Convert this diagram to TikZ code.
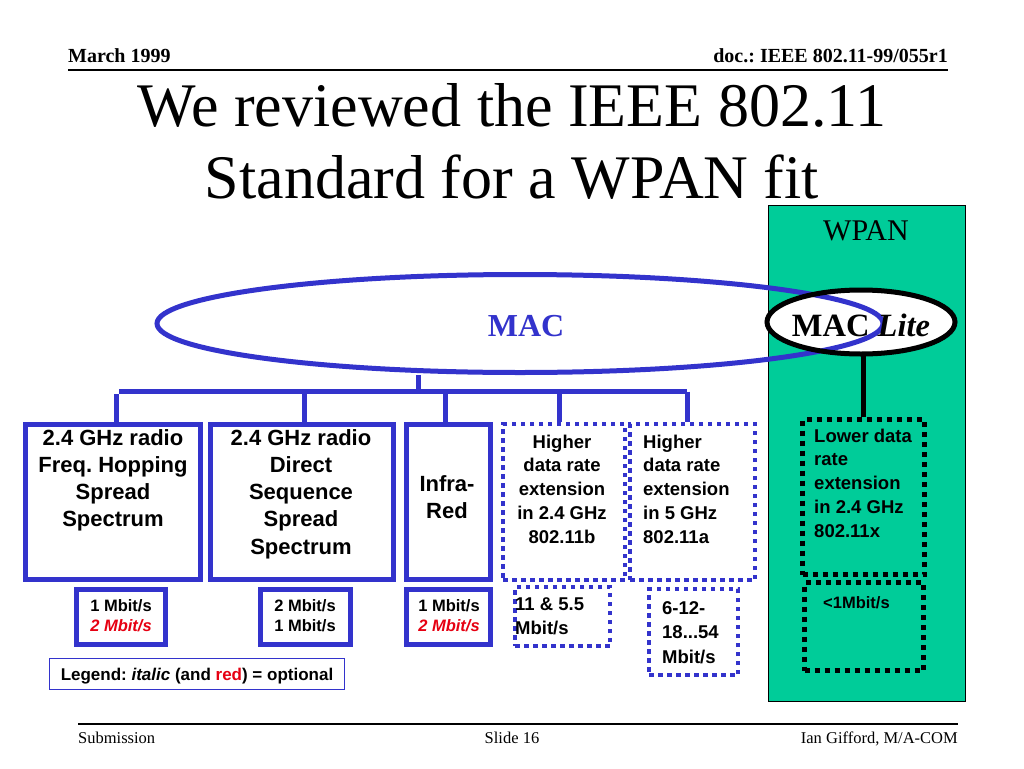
\documentclass[tikz,border=0pt]{standalone}
\usepackage{fontspec}
\setmainfont{Liberation Serif}
\newfontfamily\arialf{Liberation Sans}
\usetikzlibrary{shapes.geometric}
\frenchspacing
\definecolor{macblue}{RGB}{51,51,204}
\definecolor{wpangreen}{RGB}{0,204,153}
\definecolor{optred}{RGB}{230,0,18}
\newcommand{\mytab}[2]{\begin{tabular}[t]{@{}#1@{}}#2\end{tabular}}
\tikzset{
  bluebox/.style={draw=macblue, line width=5pt, rectangle, inner sep=0pt},
  bluedots/.style={draw=macblue, line width=4.5pt, dash pattern=on 4.5pt off 4.5pt, rectangle, inner sep=0pt},
  blackdots/.style={draw=black, line width=5pt, dash pattern=on 5pt off 5pt, rectangle, inner sep=0pt},
  tree/.style={draw=macblue, line width=5pt},
  txt/.style={inner sep=0pt, anchor=base},
  bigtxt/.style={txt, font=\arialf\bfseries\fontsize{22}{27.3}\selectfont},
  midtxt/.style={txt, font=\arialf\bfseries\fontsize{18.5}{23.8}\selectfont},
  ratetxt/.style={txt, font=\arialf\bfseries\fontsize{16.5}{20}\selectfont},
  headtxt/.style={txt, font=\bfseries\fontsize{20}{24}\selectfont},
  foottxt/.style={txt, font=\fontsize{16.5}{20}\selectfont},
}
\begin{document}
\begin{tikzpicture}[x=1pt,y=-1pt]
\useasboundingbox[fill=white] (0,0) rectangle (1024,768);
% header
\node[headtxt, anchor=base west] (date) at (68,63) {March 1999};
\node[headtxt, anchor=base east] (doc) at (948,63) {doc.: IEEE 802.11-99/055r1};
\coordinate (hl) at (68,70);
\coordinate (hr) at (948,70);
\draw[line width=2pt] (hl) -- (hr);
% title
\node[txt, font=\fontsize{62}{72}\selectfont] (title) at (512,126)
  {\mytab{c}{We reviewed the IEEE 802.11\\Standard for a WPAN fit}};
% WPAN panel
\node[draw=black, line width=1pt, fill=wpangreen, rectangle, inner sep=0pt,
  minimum width=197pt, minimum height=496pt, anchor=north west] (panel) at (767.5,204.5) {};
\node[txt, font=\fontsize{30}{34}\selectfont] (wpan) at (866,240) {WPAN};
% MAC Lite (fill), MAC ellipse, MAC Lite border
\node[ellipse, fill=white, inner sep=0pt, minimum width=188pt, minimum height=64pt] (lite) at (861,322) {};
\node[ellipse, draw=macblue, line width=5pt, inner sep=0pt, minimum width=726pt, minimum height=98pt] (mac) at (520,323.5) {};
\draw[line width=5pt] (lite.center) ellipse [x radius=94, y radius=32];
\node[txt, font=\bfseries\fontsize{32}{36}\selectfont, text=macblue] (mactxt) at (526,336) {MAC};
\node[txt, font=\bfseries\fontsize{32.5}{36}\selectfont] (litetxt) at (861,336) {MAC \textit{Lite}};
% boxes
\node[bluebox, minimum width=175pt, minimum height=155pt] (b1) at (113,502) {};
\node[bluebox, minimum width=183pt, minimum height=155pt] (b2) at (302,502) {};
\node[bluebox, minimum width=84pt, minimum height=155pt] (b3) at (448.5,502) {};
\node[bluedots, minimum width=122pt, minimum height=156pt] (b4) at (564,502) {};
\node[bluedots, minimum width=125pt, minimum height=156pt] (b5) at (692.5,502) {};
\node[bigtxt] (t1) at (113,445) {\mytab{c}{2.4 GHz radio\\Freq. Hopping\\Spread\\Spectrum}};
\node[bigtxt] (t2) at (301,445) {\mytab{c}{2.4 GHz radio\\Direct\\Sequence\\Spread\\Spectrum}};
\node[bigtxt] (t3) at (447,491) {\mytab{c}{Infra-\\Red}};
\node[midtxt] (t4) at (562,448) {\mytab{c}{Higher\\data rate\\extension\\in 2.4 GHz\\802.11b}};
\node[midtxt, anchor=base west] (t5) at (643,448) {\mytab{l}{Higher\\data rate\\extension\\in 5 GHz\\802.11a}};
% tree
\coordinate (bus) at (418,391.5);
\coordinate (d1) at (116.5,394);
\coordinate (d2) at (304,391.5);
\coordinate (d3) at (445,391.5);
\coordinate (d4) at (559,391.5);
\coordinate (d5) at (687,391.5);
\coordinate (bl) at (119,391.5);
\draw[tree] (bus |- mac.south) -- (bus);
\draw[tree] (bl) -- (d5);
\draw[tree] (d1) -- (d1 |- b1.north);
\draw[tree] (d2) -- (d2 |- b2.north);
\draw[tree] (d3) -- (d3 |- b3.north);
\draw[tree] (d4) -- (d4 |- b4.north);
\draw[tree] (d5) -- (d5 |- b5.north);
% rate boxes
\node[bluebox, minimum width=89pt, minimum height=55pt] (r1) at (121,617) {};
\node[bluebox, minimum width=90pt, minimum height=55pt] (r2) at (305.5,617) {};
\node[bluebox, minimum width=84pt, minimum height=55pt] (r3) at (448.5,617) {};
\node[bluedots, minimum width=95pt, minimum height=59pt] (r4) at (562.5,616.5) {};
\node[bluedots, minimum width=89pt, minimum height=86pt] (r5) at (693.5,632) {};
\node[ratetxt] (rt1) at (121,611) {\mytab{c}{1 Mbit/s\\{\color{optred}\itshape 2 Mbit/s}}};
\node[ratetxt] (rt2) at (305,611) {\mytab{c}{2 Mbit/s\\1 Mbit/s}};
\node[ratetxt] (rt3) at (449,611) {\mytab{c}{1 Mbit/s\\{\color{optred}\itshape 2 Mbit/s}}};
\node[midtxt, anchor=base west, font=\arialf\bfseries\fontsize{18.5}{24.5}\selectfont] (rt4) at (515,610) {\mytab{l}{11 \& 5.5\\Mbit/s}};
\node[midtxt, anchor=base west, font=\arialf\bfseries\fontsize{18.5}{24.5}\selectfont] (rt5) at (662,614) {\mytab{l}{6-12-\\18...54\\Mbit/s}};
% legend
\node[draw=macblue, line width=1.5pt, rectangle, inner sep=0pt, minimum width=295pt, minimum height=31pt] (legbox) at (197,674) {};
\node[ratetxt, font=\arialf\bfseries\fontsize{17}{20}\selectfont] (leg) at (197,680)
  {Legend: \textit{italic} (and {\color{optred}red}) = optional};
% WPAN boxes
\node[blackdots, minimum width=122pt, minimum height=155pt] (low) at (863.5,497) {};
\node[blackdots, minimum width=119pt, minimum height=88pt] (lowr) at (864,626.5) {};
\draw[line width=5pt] (lite.south -| low.north) -- (low.north);
\node[midtxt, anchor=base west] (lowt) at (814,442) {\mytab{l}{Lower data\\rate\\extension\\in 2.4 GHz\\802.11x}};
\node[ratetxt, anchor=base west] (lowrt) at (823,608) {<1Mbit/s};
% footer
\coordinate (fl) at (78,724);
\coordinate (fr) at (958,724);
\draw[line width=1.5pt] (fl) -- (fr);
\node[foottxt, anchor=base west] (sub) at (78,743) {Submission};
\node[foottxt] (slide) at (512,743) {Slide 16};
\node[foottxt, anchor=base east] (auth) at (958,743) {Ian Gifford, M/A-COM};
\end{tikzpicture}
\end{document}
